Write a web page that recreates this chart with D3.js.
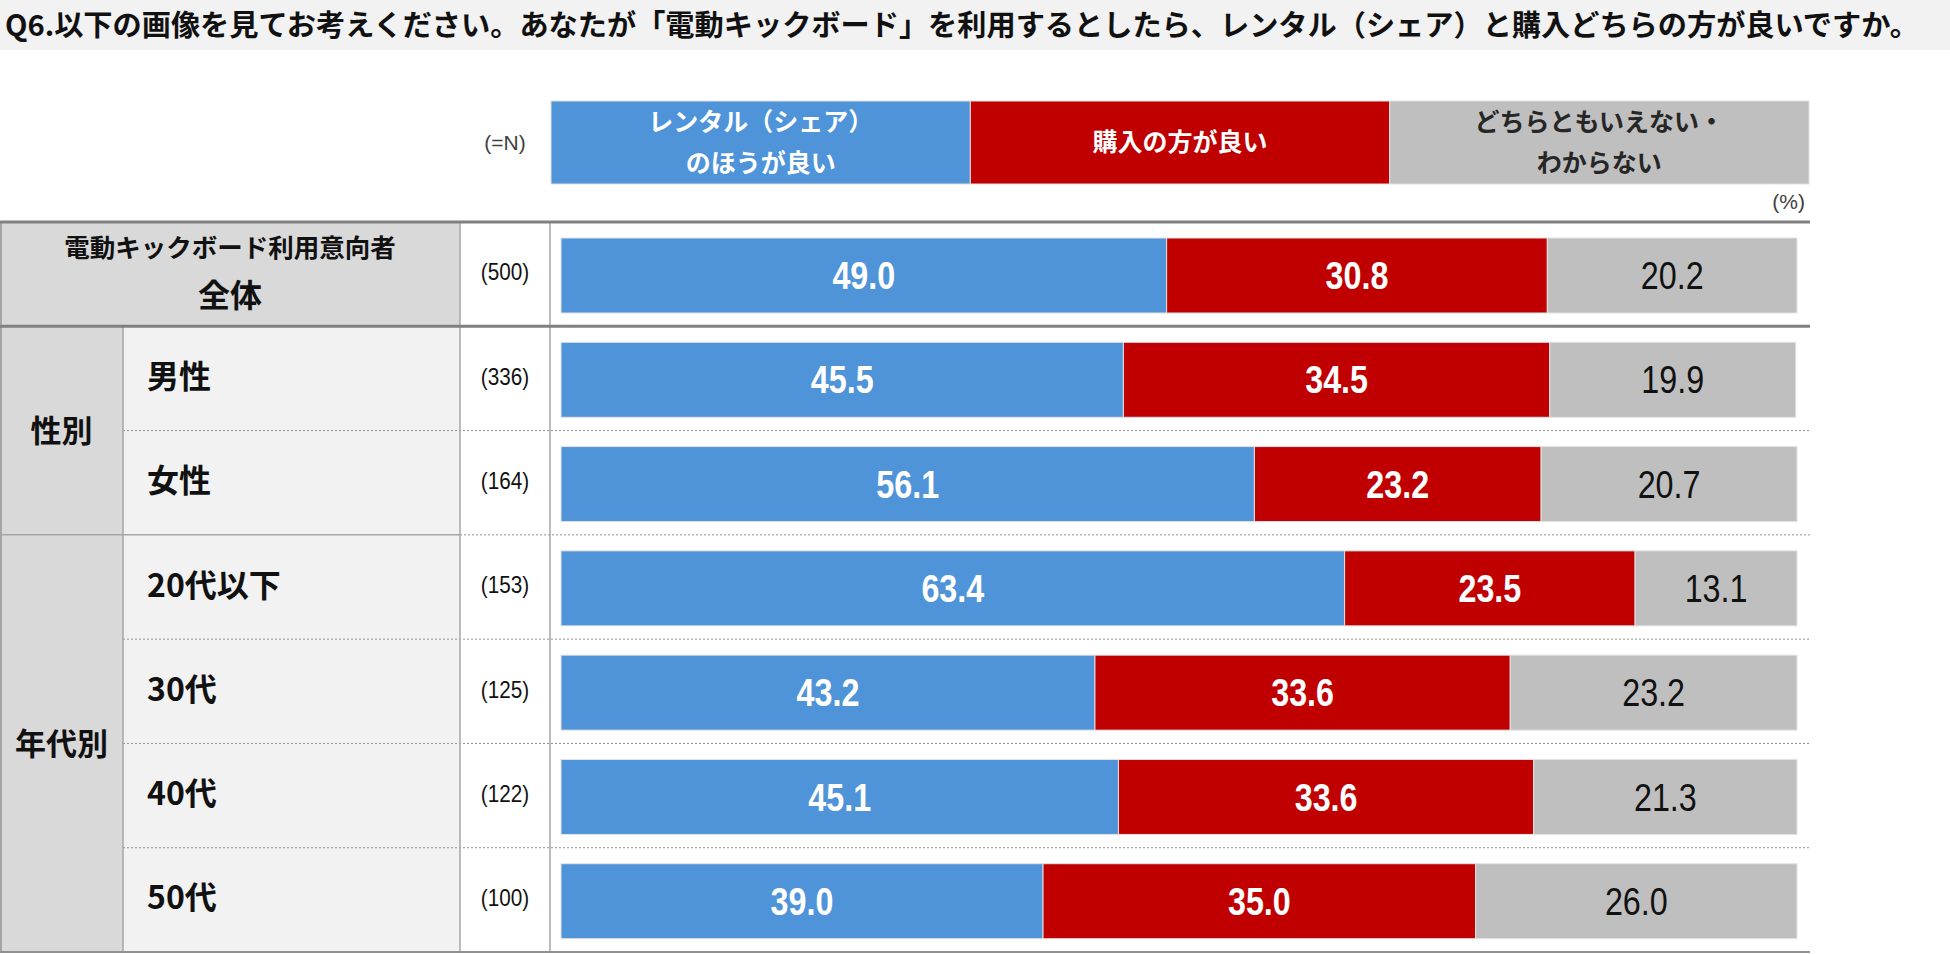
<!DOCTYPE html>
<html>
<head>
<meta charset="utf-8">
<script src="https://cdn.jsdelivr.net/npm/d3@7"></script>
<style>
  body { margin: 0; background: #fff; }
  svg { display: block; }
</style>
</head>
<body>
<svg width="1950" height="954"></svg>
<script>
// data
var titleText = "Q6.以下の画像を見てお考えください。あなたが「電動キックボード」を利用するとしたら、レンタル（シェア）と購入どちらの方が良いですか。";
var categories = ["全体", "男性", "女性", "20代以下", "30代", "40代", "50代"];
var sampleSizes = [500, 336, 164, 153, 125, 122, 100];
var rentalPct = [49.0, 45.5, 56.1, 63.4, 43.2, 45.1, 39.0];
var buyPct = [30.8, 34.5, 23.2, 23.5, 33.6, 33.6, 35.0];
var unsurePct = [20.2, 19.9, 20.7, 13.1, 23.2, 21.3, 26.0];
var seriesKeys = ["rental", "buy", "unsure"];
var seriesLabels = [["レンタル（シェア）", "のほうが良い"], ["購入の方が良い"], ["どちらともいえない・", "わからない"]];
var groupLabels = ["性別", "年代別"];
var groupMembers = [["男性", "女性"], ["20代以下", "30代", "40代", "50代"]];
var totalSubLabel = "電動キックボード利用意向者";

var svg = d3.select("svg");
var jp = "'Noto Sans CJK JP', 'Noto Sans', sans-serif";
var num = "'Liberation Sans Narrow', 'Liberation Sans', sans-serif";

var colors = { rental: "#4f94d8", buy: "#c00000", unsure: "#bfbfbf" };
var textColors = { rental: "#fff", buy: "#fff", unsure: "#111" };

// table geometry
var tableTop = 222, tableBottom = 952, tableRight = 1810;
var groupCol = 123, labelCol = 460, nCol = 550;

var rows = categories.map(function(c, i) {
  return { cat: c, n: sampleSizes[i], rental: rentalPct[i], buy: buyPct[i], unsure: unsurePct[i] };
});

var y = d3.scaleBand().domain(categories).range([tableTop, tableBottom]);
var x = d3.scaleLinear().domain([0, 100]).range([561, 1797]);
var legendX = d3.scaleBand().domain(seriesKeys).range([551, 1809]);

// title bar
svg.append("rect")
  .attr("x", 0).attr("y", 0)
  .attr("width", 1950).attr("height", 50)
  .attr("fill", "#f2f2f2");
svg.append("text")
  .attr("x", 5).attr("y", 36)
  .attr("font-family", jp)
  .attr("font-weight", "bold")
  .attr("font-size", 29)
  .attr("textLength", 1914)
  .attr("lengthAdjust", "spacingAndGlyphs")
  .attr("fill", "#111")
  .text(titleText);

// legend header boxes
var legend = svg.selectAll("g.legend")
  .data(seriesKeys)
  .enter().append("g")
  .attr("class", "legend");

legend.append("rect")
  .attr("x", function(d) { return legendX(d); })
  .attr("y", 101)
  .attr("width", legendX.bandwidth())
  .attr("height", 83)
  .attr("fill", function(d) { return colors[d]; })
  .attr("stroke", "#e0e0e0")
  .attr("stroke-width", 1);

legend.each(function(d, i) {
  var lines = seriesLabels[i];
  var cy = 142;
  d3.select(this).selectAll("text")
    .data(lines)
    .enter().append("text")
    .attr("x", legendX(d) + legendX.bandwidth() / 2)
    .attr("y", function(t, j) { return cy + (j - (lines.length - 1) / 2) * 41; })
    .attr("dy", "0.36em")
    .attr("text-anchor", "middle")
    .attr("font-family", jp)
    .attr("font-weight", "bold")
    .attr("font-size", 25)
    .attr("fill", textColors[d] == "#fff" ? "#fff" : "#262626")
    .text(function(t) { return t; });
});

svg.append("text")
  .attr("x", 505).attr("y", 142)
  .attr("dy", "0.36em")
  .attr("text-anchor", "middle")
  .attr("font-family", num)
  .attr("font-size", 21)
  .attr("fill", "#404040")
  .text("(=N)");

svg.append("text")
  .attr("x", 1805).attr("y", 201)
  .attr("dy", "0.36em")
  .attr("text-anchor", "end")
  .attr("font-family", num)
  .attr("font-size", 21)
  .attr("fill", "#404040")
  .text("(%)");

// cell backgrounds
svg.append("rect")
  .attr("x", 0).attr("y", y("全体"))
  .attr("width", labelCol).attr("height", y.bandwidth())
  .attr("fill", "#d9d9d9");

groupMembers.forEach(function(members, gi) {
  var top = y(members[0]);
  var bottom = y(members[members.length - 1]) + y.bandwidth();
  svg.append("rect")
    .attr("x", 0).attr("y", top)
    .attr("width", groupCol).attr("height", bottom - top)
    .attr("fill", "#d9d9d9");
  svg.append("rect")
    .attr("x", groupCol).attr("y", top)
    .attr("width", labelCol - groupCol).attr("height", bottom - top)
    .attr("fill", "#f2f2f2");
  svg.append("text")
    .attr("x", groupCol / 2)
    .attr("y", (top + bottom) / 2)
    .attr("dy", "0.36em")
    .attr("text-anchor", "middle")
    .attr("font-family", jp)
    .attr("font-weight", "bold")
    .attr("font-size", 31)
    .attr("fill", "#111")
    .text(groupLabels[gi]);
});

// row separators
for (var i = 1; i < categories.length; i++) {
  var yy = y(categories[i]);
  var firstOfGroup = groupMembers.some(function(m) { return m[0] == categories[i]; });
  if (categories[i] == "男性") continue;
  if (firstOfGroup) {
    svg.append("line")
      .attr("x1", 0).attr("x2", labelCol)
      .attr("y1", yy).attr("y2", yy)
      .attr("stroke", "#a6a6a6").attr("stroke-width", 1.5);
    svg.append("line")
      .attr("x1", labelCol).attr("x2", tableRight)
      .attr("y1", yy).attr("y2", yy)
      .attr("stroke", "#909090").attr("stroke-width", 1)
      .attr("stroke-dasharray", "2,2");
  } else {
    svg.append("line")
      .attr("x1", groupCol).attr("x2", tableRight)
      .attr("y1", yy).attr("y2", yy)
      .attr("stroke", "#909090").attr("stroke-width", 1)
      .attr("stroke-dasharray", "2,2");
  }
}

// vertical rules
svg.append("line")
  .attr("x1", 1).attr("x2", 1).attr("y1", tableTop).attr("y2", tableBottom)
  .attr("stroke", "#a6a6a6").attr("stroke-width", 2);
svg.append("line")
  .attr("x1", groupCol).attr("x2", groupCol).attr("y1", y("男性")).attr("y2", tableBottom)
  .attr("stroke", "#a6a6a6").attr("stroke-width", 1.5);
[labelCol, nCol].forEach(function(vx) {
  svg.append("line")
    .attr("x1", vx).attr("x2", vx).attr("y1", tableTop).attr("y2", tableBottom)
    .attr("stroke", "#a6a6a6").attr("stroke-width", 1.5);
});

// heavy horizontal rules
[tableTop, y("男性")].forEach(function(hy) {
  svg.append("line")
    .attr("x1", 0).attr("x2", tableRight).attr("y1", hy).attr("y2", hy)
    .attr("stroke", "#808080").attr("stroke-width", 3);
});
svg.append("line")
  .attr("x1", 0).attr("x2", tableRight).attr("y1", tableBottom).attr("y2", tableBottom)
  .attr("stroke", "#909090").attr("stroke-width", 2);

// row labels
svg.append("text")
  .attr("x", labelCol / 2).attr("y", y("全体") + 26)
  .attr("dy", "0.36em")
  .attr("text-anchor", "middle")
  .attr("font-family", jp).attr("font-weight", "bold")
  .attr("font-size", 25.5).attr("fill", "#111")
  .text(totalSubLabel);
svg.append("text")
  .attr("x", labelCol / 2).attr("y", y("全体") + 73)
  .attr("dy", "0.36em")
  .attr("text-anchor", "middle")
  .attr("font-family", jp).attr("font-weight", "bold")
  .attr("font-size", 32).attr("fill", "#111")
  .text("全体");

svg.selectAll("text.rowlabel")
  .data(rows.filter(function(d) { return d.cat != "全体"; }))
  .enter().append("text")
  .attr("class", "rowlabel")
  .attr("x", 147)
  .attr("y", function(d) { return y(d.cat) + y.bandwidth() / 2 - 2; })
  .attr("dy", "0.36em")
  .attr("font-family", jp).attr("font-weight", "bold")
  .attr("font-size", 32).attr("fill", "#111")
  .text(function(d) { return d.cat; });

svg.selectAll("text.nlabel")
  .data(rows)
  .enter().append("text")
  .attr("class", "nlabel")
  .attr("transform", function(d) {
    return "translate(505," + (y(d.cat) + y.bandwidth() / 2 - 2) + ") scale(0.9,1)";
  })
  .attr("dy", "0.36em")
  .attr("text-anchor", "middle")
  .attr("font-family", num)
  .attr("font-size", 23).attr("fill", "#111")
  .text(function(d) { return "(" + d.n + ")"; });

// stacked bars
var stacked = d3.stack().keys(seriesKeys)(rows);
var barTop = 16, barH = 75;

var layer = svg.selectAll("g.layer")
  .data(stacked)
  .enter().append("g")
  .attr("class", "layer");

layer.selectAll("rect")
  .data(function(s) { return s.map(function(p) { return { key: s.key, p: p }; }); })
  .enter().append("rect")
  .attr("x", function(d) { return x(d.p[0]); })
  .attr("y", function(d) { return y(d.p.data.cat) + barTop; })
  .attr("width", function(d) { return x(d.p[1]) - x(d.p[0]); })
  .attr("height", barH)
  .attr("fill", function(d) { return colors[d.key]; })
  .attr("stroke", "#e3e3e3")
  .attr("stroke-width", 1);

// value labels, squeezed a little to look like the condensed face of the original
layer.selectAll("text")
  .data(function(s) { return s.map(function(p) { return { key: s.key, p: p }; }); })
  .enter().append("text")
  .attr("transform", function(d) {
    var cx = (x(d.p[0]) + x(d.p[1])) / 2;
    var cy = y(d.p.data.cat) + barTop + barH / 2;
    return "translate(" + cx + "," + cy + ") scale(0.85,1)";
  })
  .attr("dy", "0.36em")
  .attr("text-anchor", "middle")
  .attr("font-family", num)
  .attr("font-weight", function(d) { return d.key == "unsure" ? "normal" : "bold"; })
  .attr("font-size", 38)
  .attr("fill", function(d) { return textColors[d.key]; })
  .text(function(d) { return d.p.data[d.key].toFixed(1); });
</script>
</body>
</html>
